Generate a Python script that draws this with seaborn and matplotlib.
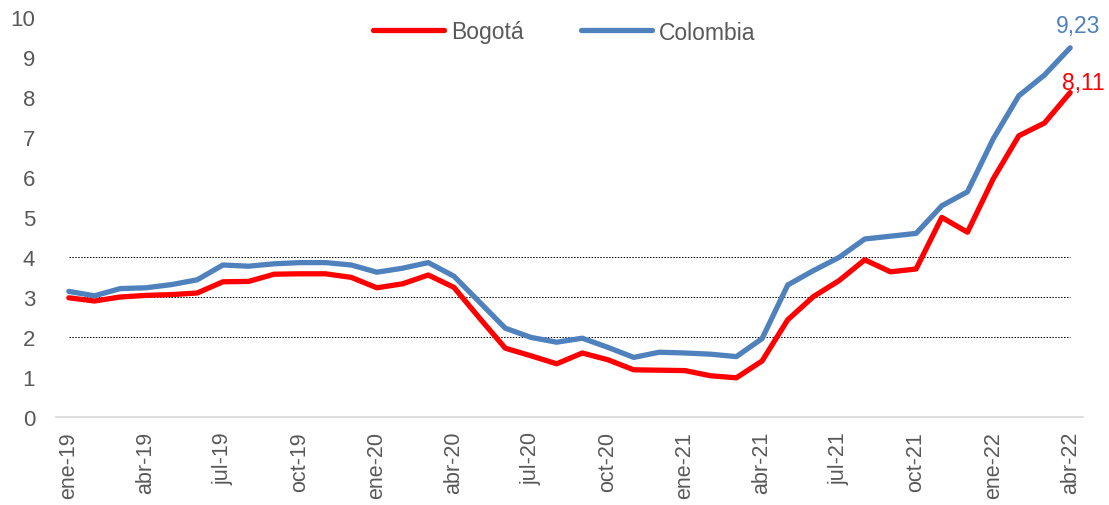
import matplotlib
matplotlib.use("Agg")
import matplotlib.pyplot as plt
import seaborn as sns
import pandas as pd
import numpy as np

months = ["ene", "feb", "mar", "abr", "may", "jun", "jul", "ago", "sep", "oct", "nov", "dic"]
periods = [f"{m}-{y}" for y in ["19", "20", "21", "22"] for m in months][:40]

bogota = [2.98, 2.90, 3.00, 3.04, 3.06, 3.10, 3.38, 3.39, 3.57, 3.58, 3.58, 3.49,
          3.23, 3.33, 3.55, 3.24, 2.47, 1.72, 1.53, 1.33, 1.60, 1.43, 1.18, 1.17,
          1.16, 1.03, 0.98, 1.40, 2.43, 3.01, 3.41, 3.93, 3.63, 3.70, 4.99, 4.62,
          5.95, 7.03, 7.35, 8.11]
colombia = [3.14, 3.03, 3.21, 3.23, 3.31, 3.43, 3.80, 3.77, 3.83, 3.86, 3.86, 3.80,
            3.62, 3.72, 3.86, 3.52, 2.87, 2.22, 1.99, 1.87, 1.97, 1.74, 1.49, 1.62,
            1.60, 1.57, 1.51, 1.96, 3.30, 3.66, 3.99, 4.45, 4.52, 4.59, 5.28, 5.63,
            6.95, 8.03, 8.55, 9.23]
series_names = ["Bogotá", "Colombia"]
colors = {"Bogotá": "#ff0000", "Colombia": "#4f81bd"}
gridlevels = [2, 3, 4]

df = pd.DataFrame({
    "idx": list(range(len(periods))) * 2,
    "valor": bogota + colombia,
    "serie": [series_names[0]] * len(bogota) + [series_names[1]] * len(colombia),
})

sns.set_theme(style="white")
plt.rcParams["font.family"] = ["Liberation Sans", "DejaVu Sans"]

fig = plt.figure(figsize=(11.09, 5.06), dpi=100)
ax = fig.add_axes([56 / 1109, 1 - 418 / 506, (1083 - 56) / 1109, 400 / 506])

ax.hlines(gridlevels, 0, len(periods) - 1, colors="black", linestyles=(0, (1.5, 1.5)),
          linewidth=0.7, zorder=1)

sns.lineplot(data=df, x="idx", y="valor", hue="serie", hue_order=series_names,
             palette=colors, linewidth=3.8, ax=ax, zorder=3)

ax.set_xlim(-0.5, len(periods) - 0.5)
ax.set_ylim(0, 10)
ax.set_yticks(range(0, 11))
ax.set_xlabel("")
ax.set_ylabel("")

major = list(range(0, len(periods), 3))
ax.set_xticks(major)
ax.set_xticklabels([periods[i] for i in major], rotation=90)
ax.set_xticks([i - 0.5 for i in major], minor=True)
ax.tick_params(axis="x", which="major", length=0, pad=10, labelsize=15.5, labelcolor="#595959")
ax.tick_params(axis="x", which="minor", length=6, width=1.2, color="#d9d9d9", direction="out")
ax.tick_params(axis="y", length=0, labelsize=16, labelcolor="#595959", pad=15)

for s in ["left", "right", "top"]:
    ax.spines[s].set_visible(False)
ax.spines["bottom"].set_color("#d9d9d9")
ax.spines["bottom"].set_linewidth(1.2)

n = len(periods) - 1
ax.annotate(f"{colombia[-1]:.2f}".replace(".", ","), (n, colombia[-1]), xytext=(8, 22),
            textcoords="offset pixels", ha="center", va="center", color=colors["Colombia"], fontsize=16.5)
ax.annotate(f"{bogota[-1]:.2f}".replace(".", ","), (n, bogota[-1]), xytext=(13, 10),
            textcoords="offset pixels", ha="center", va="center", color=colors["Bogotá"], fontsize=16.5)

leg = ax.legend(loc="center", bbox_to_anchor=(564 / 1109, 1 - 33 / 506),
                bbox_transform=fig.transFigure, ncol=2, frameon=False, fontsize=16.5,
                handlelength=3.1, columnspacing=2.5, handletextpad=0.3)
for t in leg.get_texts():
    t.set_color("#595959")
for h in leg.get_lines():
    h.set_linewidth(3.8)

fig.savefig("out.png", dpi=100)
